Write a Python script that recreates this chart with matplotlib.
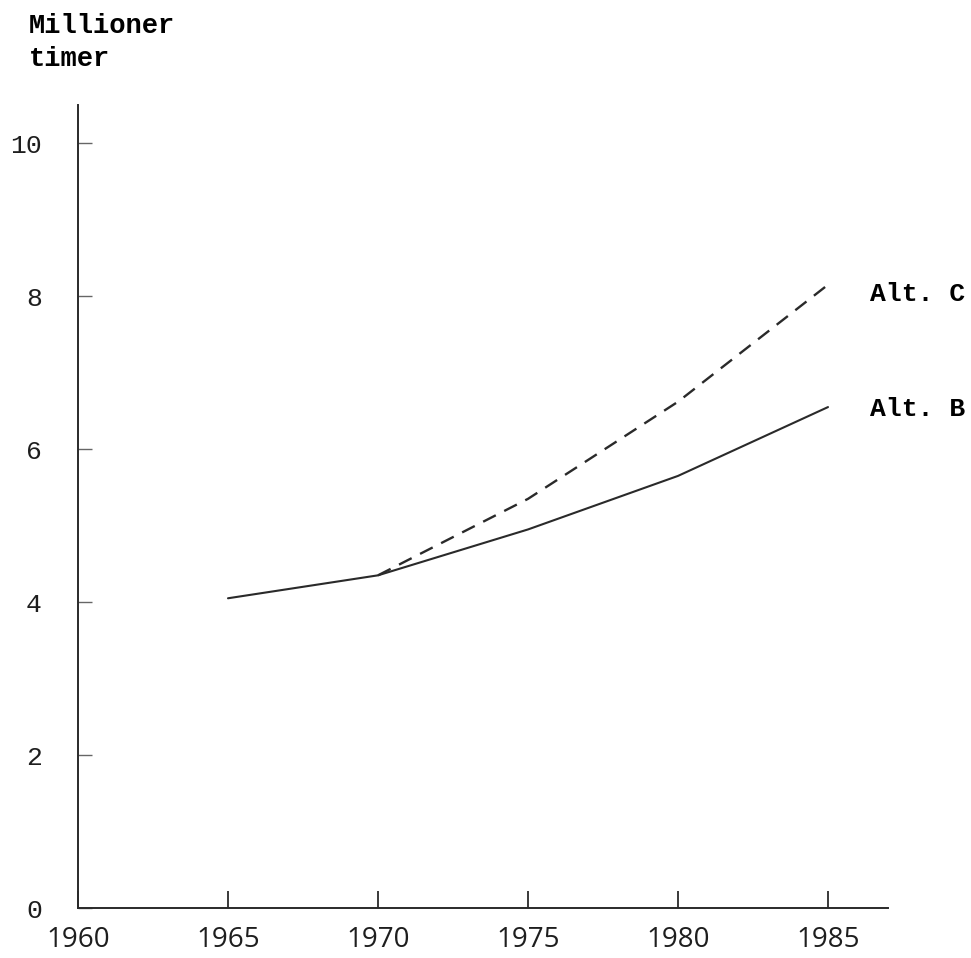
import matplotlib.pyplot as plt

# Data (millioner timer)
years_b = [1965, 1970, 1975, 1980, 1985]
alt_b = [4.05, 4.35, 4.95, 5.65, 6.55]
years_c = [1970, 1975, 1980, 1985]
alt_c = [4.35, 5.35, 6.62, 8.15]

x_ticks = [1960, 1965, 1970, 1975, 1980, 1985]
y_ticks = [0, 2, 4, 6, 8, 10]

mono = 'Liberation Mono'
ink = '#2a2a2a'

fig = plt.figure(figsize=(9.71, 9.58), dpi=100)
ax = fig.add_axes([78 / 971, 1 - 908 / 958, 810 / 971, 803 / 958])

ax.plot(years_b, alt_b, color=ink, lw=1.5, solid_capstyle='round')
ax.plot(years_c, alt_c, color=ink, lw=1.7, linestyle=(0, (6, 4)))

ax.set_xlim(1960, 1987)
ax.set_ylim(0, 10.5)

ax.spines['top'].set_visible(False)
ax.spines['right'].set_visible(False)
for s in ['left', 'bottom']:
    ax.spines[s].set_color(ink)
    ax.spines[s].set_linewidth(1.4)

ax.set_xticks(x_ticks)
ax.set_yticks(y_ticks)
ax.set_xticklabels([str(y) for y in x_ticks], fontsize=20, family='Open Sans', color='#1e1e1e')
ax.set_yticklabels([str(v) for v in y_ticks], fontsize=19, family=mono, color='#1e1e1e')
ax.tick_params(axis='x', direction='in', length=12, width=1.3, color=ink, pad=13)
ax.tick_params(axis='y', direction='in', length=10, width=1.0, color='#666666', pad=26)

ax.text(1986.4, 8.03, 'Alt. C', fontsize=19, family=mono, fontweight='bold', va='center', ha='left', clip_on=False)
ax.text(1986.4, 6.53, 'Alt. B', fontsize=19, family=mono, fontweight='bold', va='center', ha='left', clip_on=False)

fig.text(29 / 971, 1 - 13 / 958, 'Millioner\ntimer', fontsize=19.5, family=mono, fontweight='bold',
         va='top', ha='left', linespacing=1.35)

fig.savefig('out.png', dpi=100)
